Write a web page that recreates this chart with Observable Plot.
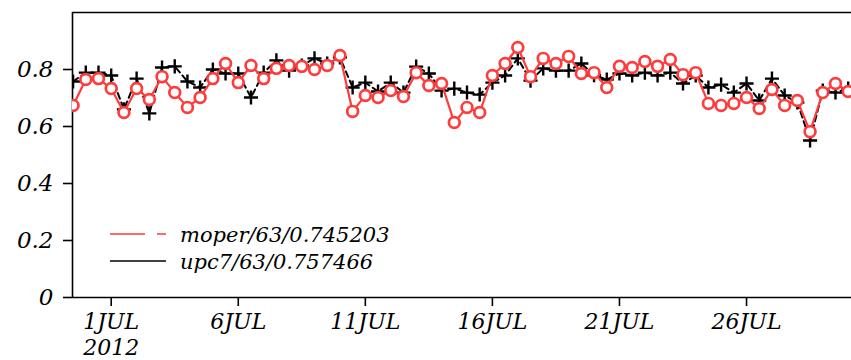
<!DOCTYPE html>
<html>
<head>
<meta charset="utf-8">
<script src="https://cdn.jsdelivr.net/npm/d3@7"></script>
<script src="https://cdn.jsdelivr.net/npm/@observablehq/plot@0.6"></script>
<style>
  body { margin: 0; background: #fff; }
  #chart { position: relative; width: 851px; height: 360px; overflow: hidden; }
  #legend { position: absolute; left: 0; top: 0; pointer-events: none; }
</style>
</head>
<body>
<div id="chart"></div>
<script>
// 12-hourly samples starting 29 June 2012 12Z
const startTime = Date.UTC(2012, 5, 29, 12);
const stepHours = 12;

const moper = [
  0.674, 0.765, 0.768, 0.733, 0.649, 0.733, 0.695, 0.775, 0.719, 0.667,
  0.702, 0.768, 0.821, 0.754, 0.814, 0.768, 0.804, 0.814, 0.811, 0.800,
  0.814, 0.849, 0.653, 0.709, 0.702, 0.726, 0.705, 0.789, 0.744, 0.751,
  0.614, 0.667, 0.649, 0.779, 0.821, 0.877, 0.775, 0.839, 0.821, 0.846,
  0.786, 0.789, 0.737, 0.811, 0.807, 0.828, 0.811, 0.835, 0.782, 0.789,
  0.681, 0.674, 0.681, 0.702, 0.663, 0.730, 0.674, 0.691, 0.582, 0.719,
  0.751, 0.723
];

const upc7 = [
  0.758, 0.789, 0.789, 0.779, 0.660, 0.768, 0.646, 0.807, 0.811, 0.758,
  0.737, 0.800, 0.786, 0.786, 0.702, 0.789, 0.832, 0.796, 0.814, 0.839,
  0.821, 0.842, 0.737, 0.754, 0.723, 0.754, 0.719, 0.810, 0.786, 0.726,
  0.733, 0.719, 0.712, 0.754, 0.779, 0.839, 0.761, 0.804, 0.796, 0.796,
  0.821, 0.780, 0.765, 0.786, 0.779, 0.789, 0.779, 0.789, 0.751, 0.779,
  0.737, 0.747, 0.719, 0.751, 0.691, 0.768, 0.709, 0.684, 0.551, 0.726,
  0.719, 0.733
];

const xTickDates = [1, 6, 11, 16, 21, 26].map(d => new Date(Date.UTC(2012, 6, d)));
const xTickLabels = ["1JUL\n2012", "6JUL", "11JUL", "16JUL", "21JUL", "26JUL"];
const yTicks = [0, 0.2, 0.4, 0.6, 0.8];
const yTickLabels = ["0", "0.2", "0.4", "0.6", "0.8"];

const legendItems = [
  {label: "moper/63/0.745203", color: "#ff3b3b", dash: "35,12"},
  {label: "upc7/63/0.757466", color: "#000000", dash: null}
];

const xDomain = [new Date(Date.UTC(2012, 5, 29, 11, 27)), new Date(Date.UTC(2012, 6, 30, 3, 8))];

const rows = (vals) => vals.map((v, i) => ({t: new Date(startTime + i * stepHours * 3600e3), v}));
const moperRows = rows(moper);
const upcRows = rows(upc7);

const RED = legendItems[0].color;
const FONT = "DejaVu Serif";

const chart = Plot.plot({
  width: 851,
  height: 360,
  marginLeft: 72,
  marginRight: 0,
  marginTop: 12,
  marginBottom: 63,
  style: {fontFamily: FONT, fontStyle: "italic", fontSize: "22px", color: "#000", background: "#fff", overflow: "visible"},
  x: {type: "utc", domain: xDomain},
  y: {domain: [0, 1]},
  marks: [
    Plot.axisY({
      ticks: yTicks,
      tickFormat: d => yTickLabels[yTicks.indexOf(d)],
      tickSize: 9, tickPadding: 10, fontSize: 23, strokeWidth: 1.6, label: null
    }),
    Plot.axisX({
      ticks: xTickDates,
      tickFormat: (d, i) => xTickLabels[i],
      tickSize: 9, tickPadding: 5, fontSize: 22, lineHeight: 1.15, strokeWidth: 1.6, label: null
    }),
    Plot.ruleY([0], {stroke: "#000", strokeWidth: 1.6}),
    Plot.ruleY([1], {stroke: "#000", strokeWidth: 1.6}),
    Plot.ruleX([xDomain[0]], {stroke: "#000", strokeWidth: 1.6}),
    Plot.line(upcRows, {x: "t", y: "v", stroke: "#000", strokeWidth: 2, strokeDasharray: "6,4", clip: true}),
    Plot.dot(upcRows, {x: "t", y: "v", symbol: "plus", r: 4.6, stroke: "#000", strokeWidth: 2.4, clip: true}),
    Plot.line(moperRows, {x: "t", y: "v", stroke: RED, strokeWidth: 2.2, clip: true}),
    Plot.dot(moperRows, {x: "t", y: "v", symbol: "circle", r: 5.4, stroke: RED, strokeWidth: 2.7, fill: "#fff", clip: true})
  ]
});

const host = document.getElementById("chart");
host.appendChild(chart);

// Legend drawn inside the lower-left of the plot area
const legend = d3.select(host).append("svg")
  .attr("id", "legend")
  .attr("width", 851)
  .attr("height", 360);
const items = legend.selectAll("g").data(legendItems).join("g")
  .attr("transform", (d, i) => `translate(110,${234 + i * 27})`);
items.append("line")
  .attr("x1", 0).attr("x2", 56).attr("y1", 0).attr("y2", 0)
  .attr("stroke", d => d.color).attr("stroke-width", 1.4)
  .attr("stroke-dasharray", d => d.dash);
items.append("text")
  .attr("x", 70).attr("y", 8)
  .attr("font-family", FONT).attr("font-style", "italic").attr("font-size", 21)
  .attr("fill", "#000")
  .text(d => d.label);
</script>
</body>
</html>
